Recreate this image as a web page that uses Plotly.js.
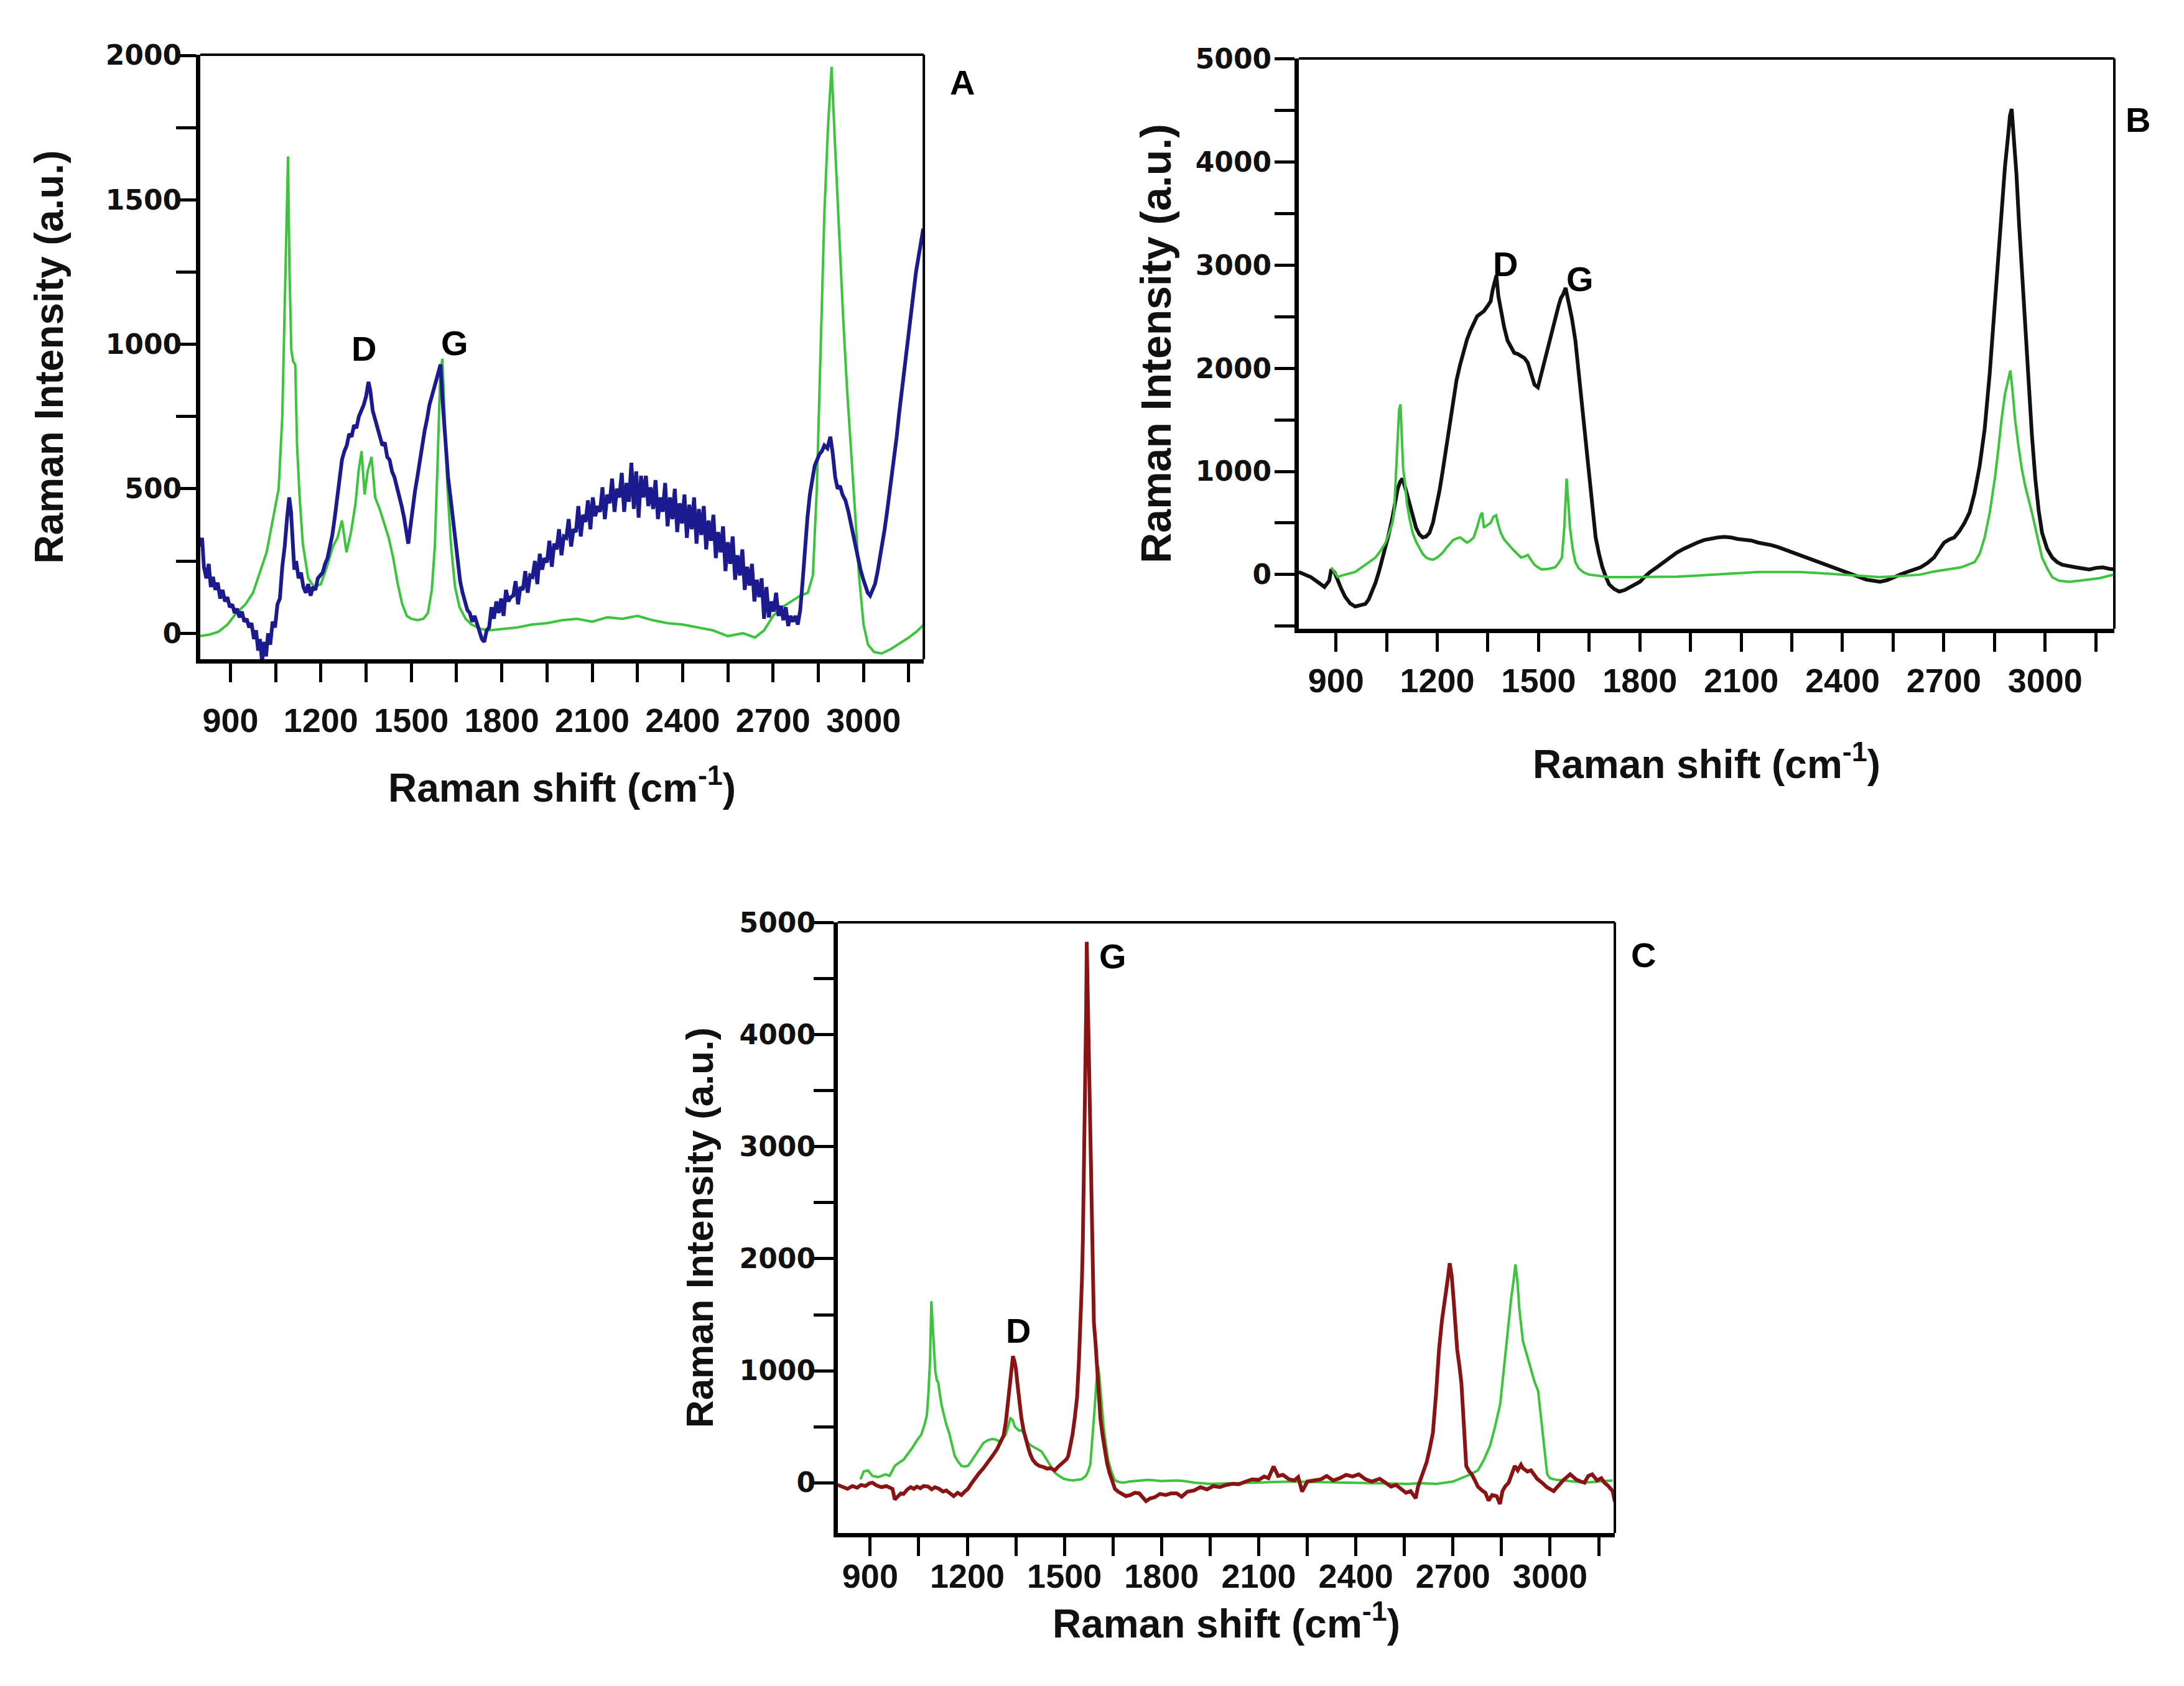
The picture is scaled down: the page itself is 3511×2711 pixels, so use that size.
<!DOCTYPE html>
<html>
<head>
<meta charset="utf-8">
<script src="https://cdn.plot.ly/plotly-3.0.1.min.js"></script>
<style>html,body{margin:0;padding:0;background:#fff;}#chart{width:3511px;height:2711px;}</style>
</head>
<body>
<div id="chart"></div>
<script>
// ---------- Panel A ----------
const A_shift_green = [800,830,860,890,920,950,975,1000,1020,1040,
1060,1072,1080,1086,1091,1096,1102,1108,1115,1121,
1129,1140,1158,1178,1200,1220,1240,1255,1270,1285,
1300,1315,1325,1335,1345,1355,1368,1380,1395,1410,
1425,1440,1455,1470,1485,1500,1520,1540,1555,1568,
1578,1588,1596,1603,1610,1620,1632,1645,1660,1680,
1700,1730,1760,1800,1850,1900,1950,2000,2050,2100,
2150,2200,2250,2300,2350,2400,2450,2500,2550,2600,
2640,2670,2700,2730,2760,2790,2815,2832,2845,2858,
2870,2882,2894,2905,2918,2932,2945,2958,2970,2985,
3000,3015,3035,3060,3090,3120,3150,3175,3200];
const A_int_green = [-10,-5,5,30,70,100,140,220,280,390,
500,750,1100,1450,1650,1250,980,940,930,650,
480,310,190,160,170,230,300,330,390,280,
350,450,560,630,480,560,610,470,430,380,
330,260,170,100,60,50,45,50,70,150,
300,620,900,950,760,500,300,160,90,50,
30,15,10,15,20,30,35,45,50,40,
55,50,60,45,35,30,20,10,-10,0,
-15,10,60,90,110,130,140,200,500,1000,
1450,1750,1960,1700,1400,1100,850,650,450,200,
30,-40,-65,-70,-55,-35,-15,5,30];

const A_shift_blue = [800,806,812,820,828,835,842,850,858,866,
874,882,890,898,906,914,922,930,938,946,
954,962,970,978,985,992,998,1005,1012,1018,
1025,1032,1040,1048,1056,1064,1072,1080,1088,1095,
1101,1106,1112,1118,1126,1134,1142,1150,1158,1166,
1174,1182,1190,1198,1206,1214,1222,1230,1238,1246,
1254,1262,1270,1278,1286,1294,1302,1310,1318,1326,
1334,1342,1350,1358,1364,1372,1380,1388,1396,1404,
1412,1420,1428,1436,1444,1452,1460,1468,1476,1484,
1490,1496,1504,1512,1520,1528,1536,1544,1552,1560,
1568,1576,1584,1590,1597,1604,1610,1616,1622,1630,
1638,1646,1654,1662,1670,1678,1686,1694,1702,1710,
1718,1726,1734,1742,1750,1758,1766,1774,1782,1790,
1798,1806,1814,1822,1830,1838,1846,1854,1862,1870,
1878,1886,1894,1902,1910,1918,1926,1934,1942,1950,
1958,1966,1974,1982,1990,1998,2006,2014,2022,2030,
2038,2046,2054,2062,2070,2078,2086,2094,2102,2110,
2118,2126,2134,2142,2150,2158,2166,2174,2182,2190,
2198,2206,2214,2222,2230,2238,2246,2254,2262,2270,
2278,2286,2294,2302,2310,2318,2326,2334,2342,2350,
2358,2366,2374,2382,2390,2398,2406,2414,2422,2430,
2438,2446,2454,2462,2470,2478,2486,2494,2502,2510,
2518,2526,2534,2542,2550,2558,2566,2574,2582,2590,
2598,2606,2614,2622,2630,2638,2646,2654,2662,2670,
2678,2686,2694,2702,2710,2718,2726,2734,2742,2750,
2758,2766,2774,2782,2790,2798,2806,2814,2822,2830,
2838,2846,2854,2862,2870,2880,2890,2898,2906,2914,
2922,2930,2940,2950,2958,2966,2974,2982,2990,2998,
3006,3014,3022,3030,3038,3046,3054,3062,3070,3078,
3086,3094,3102,3110,3118,3126,3134,3142,3150,3158,
3166,3174,3182,3190,3198];
const A_int_blue = [300,330,230,190,240,160,195,150,175,120,
150,110,125,90,100,70,85,55,75,40,
50,20,35,-20,10,-60,-20,-100,-30,-80,
0,-40,40,20,100,120,230,300,400,470,
420,300,220,250,190,210,160,140,170,130,
160,150,190,200,210,240,260,300,340,400,
460,520,600,630,650,690,680,720,710,750,
770,790,820,870,840,770,740,710,690,650,
660,610,600,560,540,510,480,440,400,340,
310,360,440,490,540,600,640,700,740,790,
820,850,880,900,930,800,700,640,540,470,
400,320,250,180,140,110,80,70,40,60,
30,10,-20,-30,10,20,90,50,110,70,
120,60,150,110,125,130,180,100,160,150,
215,140,200,195,250,170,275,220,260,245,
320,230,310,290,360,270,335,330,395,300,
360,350,440,335,410,385,460,360,470,405,
440,420,505,395,480,450,535,420,500,470,
555,420,520,455,590,430,560,400,545,470,
545,440,505,430,530,395,470,420,520,370,
470,395,500,350,450,380,480,330,445,360,
470,310,430,340,440,290,390,320,410,260,
350,280,370,215,315,240,335,185,270,200,
290,150,230,165,240,110,185,125,190,50,
160,55,110,75,140,60,95,45,90,25,
60,40,60,30,80,180,300,400,480,540,
580,600,620,630,650,640,680,620,540,500,
510,480,460,420,380,330,290,250,220,190,
160,140,130,150,170,210,260,300,360,420,
480,540,600,680,760,830,900,980,1050,1120,
1190,1250,1300,1350,1400];

// ---------- Panel B ----------
const B_shift_black = [790,810,826,845,866,880,886,896,906,916,
927,942,957,972,987,997,1007,1017,1027,1037,
1047,1057,1067,1075,1083,1090,1097,1107,1117,1127,
1137,1147,1157,1167,1177,1187,1197,1207,1217,1227,
1237,1247,1257,1268,1278,1288,1298,1308,1318,1328,
1338,1348,1358,1364,1370,1375,1381,1388,1398,1408,
1418,1428,1438,1448,1458,1468,1478,1488,1498,1508,
1519,1529,1539,1549,1559,1566,1573,1580,1589,1599,
1609,1619,1629,1639,1649,1659,1669,1679,1689,1699,
1709,1724,1739,1755,1770,1785,1800,1815,1830,1850,
1870,1890,1910,1930,1950,1970,1990,2010,2030,2050,
2070,2090,2110,2130,2150,2170,2190,2210,2231,2251,
2271,2291,2311,2331,2351,2371,2391,2411,2431,2451,
2471,2491,2511,2531,2551,2571,2591,2611,2631,2651,
2671,2686,2701,2716,2731,2746,2761,2776,2791,2806,
2821,2836,2851,2861,2871,2881,2891,2896,2901,2908,
2915,2923,2931,2941,2951,2961,2971,2981,2991,3006,
3021,3036,3051,3071,3091,3111,3131,3151,3171,3191,
3205];
const B_int_black = [25,0,-25,-70,-120,-60,50,20,-70,-140,
-215,-280,-310,-300,-285,-240,-165,-80,25,140,
265,400,550,700,835,900,930,820,690,560,
455,390,360,370,405,500,645,820,1025,1240,
1455,1670,1885,2040,2175,2280,2365,2440,2505,2530,
2555,2600,2650,2760,2860,2900,2700,2555,2400,2270,
2200,2150,2140,2125,2100,2055,1950,1840,1815,1950,
2080,2230,2365,2490,2605,2680,2720,2780,2650,2480,
2270,1950,1600,1250,930,620,360,200,70,-20,
-95,-140,-165,-150,-120,-100,-70,-20,25,70,
120,170,215,250,285,310,335,350,360,365,
360,345,335,330,310,300,285,265,240,215,
190,170,145,120,95,70,50,25,0,-25,
-50,-60,-70,-55,-25,0,25,45,70,110,
165,240,310,340,360,420,500,600,790,1050,
1410,1950,2605,3100,3560,3950,4275,4450,4515,4200,
3890,3400,2940,2400,1885,1350,930,620,405,250,
165,120,95,80,70,60,50,65,70,55,
50];

const B_shift_green = [886,896,906,916,927,942,957,972,987,1002,
1017,1032,1047,1057,1067,1072,1077,1082,1087,1091,
1095,1099,1104,1110,1118,1127,1137,1147,1157,1167,
1177,1187,1197,1207,1217,1227,1237,1247,1257,1268,
1278,1288,1298,1308,1318,1328,1333,1338,1348,1358,
1366,1374,1381,1388,1398,1408,1418,1428,1438,1448,
1458,1468,1478,1488,1498,1509,1529,1549,1559,1569,
1576,1583,1588,1593,1601,1609,1619,1634,1649,1679,
1709,1750,1790,1850,1910,1970,2030,2090,2150,2210,
2271,2331,2391,2451,2511,2571,2631,2671,2711,2731,
2751,2771,2791,2806,2821,2836,2851,2861,2871,2881,
2891,2897,2903,2911,2921,2931,2941,2951,2961,2971,
2981,2991,3006,3021,3041,3071,3101,3131,3161,3191,
3205];
const B_int_green = [70,20,-25,-10,0,15,25,60,95,130,
165,230,310,400,500,600,930,1300,1600,1650,
1300,1025,900,690,540,405,320,265,200,165,
150,145,160,185,215,260,300,335,350,360,
335,310,330,360,460,575,600,455,480,500,
560,575,480,405,340,300,265,230,200,165,
175,190,140,95,70,50,55,70,110,165,
450,930,700,455,250,120,60,20,0,-15,
-25,-25,-25,-25,-20,-10,0,10,25,25,
25,15,0,-10,-25,-15,0,30,50,65,
70,95,120,200,360,600,930,1200,1505,1750,
1885,1980,1800,1505,1250,1025,860,740,600,455,
300,165,60,-25,-60,-70,-60,-50,-35,-10,
0];

// ---------- Panel C ----------
const C_shift_red = [800,815,830,845,860,872,885,898,907,920,
935,950,962,969,976,985,995,1003,1015,1025,
1035,1044,1055,1065,1079,1090,1100,1113,1125,1135,
1147,1158,1170,1182,1192,1202,1212,1223,1235,1250,
1264,1278,1292,1305,1312,1319,1325,1330,1336,1341,
1346,1350,1355,1360,1367,1374,1381,1388,1395,1402,
1412,1422,1435,1447,1457,1470,1480,1491,1500,1507,
1512,1518,1525,1532,1539,1545,1550,1554,1557,1560,
1564,1567,1569,1571,1574,1577,1581,1584,1588,1591,
1596,1601,1606,1611,1618,1625,1632,1639,1647,1656,
1666,1677,1690,1704,1717,1731,1742,1752,1765,1779,
1795,1813,1830,1847,1862,1880,1900,1920,1940,1960,
1980,2000,2020,2038,2060,2080,2100,2117,2130,2146,
2160,2175,2194,2210,2222,2234,2250,2270,2292,2310,
2330,2350,2370,2390,2409,2430,2449,2474,2490,2509,
2524,2540,2555,2569,2585,2592,2600,2610,2619,2628,
2638,2648,2657,2666,2676,2683,2690,2696,2702,2708,
2713,2720,2726,2734,2741,2750,2758,2768,2777,2790,
2800,2810,2821,2835,2845,2853,2862,2872,2882,2891,
2900,2910,2916,2930,2941,2950,2960,2975,2990,3011,
3025,3040,3062,3080,3095,3106,3118,3130,3145,3158,
3168,3180,3193,3200];
const C_int_red = [-20,-40,-55,-30,-45,-20,-30,-5,0,-25,
-40,-30,-50,-55,-150,-120,-95,-100,-60,-40,
-55,-35,-50,-30,-35,-60,-40,-55,-80,-70,
-95,-120,-90,-110,-80,-55,-10,35,80,130,
180,240,300,370,420,540,700,875,1000,1130,
1080,1020,880,725,580,465,380,315,250,205,
170,150,140,125,130,110,140,165,190,210,
240,320,430,580,760,1100,1430,1800,2175,2700,
3290,4200,4830,4500,4000,3585,2800,2175,1700,1430,
1250,1060,820,575,420,280,170,90,20,-55,
-80,-95,-120,-110,-90,-95,-130,-165,-140,-130,
-100,-110,-95,-95,-125,-80,-70,-40,-60,-30,
-40,-20,-10,-15,10,30,25,55,40,145,
60,70,30,20,50,-80,10,20,30,60,
20,40,70,55,75,30,10,35,0,-35,
-20,-60,-90,-75,-140,-35,35,110,185,300,
445,800,1190,1450,1635,1800,1960,1850,1635,1400,
1190,1040,890,500,150,100,75,20,-35,-70,
-90,-160,-110,-120,-190,-75,-30,0,90,150,
110,160,130,100,110,70,35,0,-40,-75,
-30,20,75,30,10,0,60,75,20,40,
0,-30,-75,-170];

const C_shift_green = [870,880,893,907,925,948,960,976,990,1003,
1017,1031,1045,1058,1068,1075,1080,1085,1089,1093,
1097,1101,1106,1110,1113,1120,1127,1135,1144,1152,
1161,1171,1182,1192,1202,1212,1223,1236,1250,1264,
1278,1288,1298,1308,1319,1326,1333,1340,1347,1354,
1360,1367,1374,1381,1388,1398,1408,1418,1429,1440,
1450,1460,1470,1484,1498,1512,1525,1540,1553,1566,
1573,1580,1587,1594,1599,1604,1608,1611,1616,1621,
1628,1635,1645,1656,1670,1683,1700,1731,1760,1800,
1847,1870,1900,1950,2000,2100,2200,2300,2400,2500,
2560,2600,2650,2700,2726,2750,2777,2795,2815,2830,
2846,2860,2872,2880,2887,2893,2899,2905,2916,2930,
2941,2952,2963,2971,2979,2985,2991,3000,3020,3042,
3070,3106,3150,3193];
const C_int_green = [30,100,110,60,50,75,60,150,180,205,
260,315,380,430,520,600,800,1100,1620,1400,
1200,1000,910,900,835,700,615,520,445,340,
240,190,150,145,150,190,240,300,355,380,
390,385,370,390,430,500,575,560,500,480,
465,470,445,400,355,330,315,300,280,230,
185,130,90,60,35,25,20,25,30,60,
100,165,400,690,900,1040,950,835,650,500,
340,205,100,20,5,0,10,20,25,15,
20,15,0,-10,-5,5,10,5,0,-5,
-10,-5,-10,10,40,70,110,200,335,500,
705,1100,1450,1650,1800,1950,1800,1550,1265,1120,
1005,900,820,600,410,250,75,40,25,20,
10,0,10,20];

// ---------- Axis / label text ----------
const X_TICKS = [900,1200,1500,1800,2100,2400,2700,3000];
const X_TITLE = 'Raman shift (cm<sup>-1</sup>)';
const Y_TITLE = 'Raman Intensity (a.u.)';
const PANEL_LABELS = ['A','B','C'];
const PEAK_LABELS = ['D','G'];

// ---------- Styles ----------
const GREEN = '#3cc43c', BLUE = '#1b1b8f', BLACK = '#111111', RED = '#8a1414';
const FONT_T = 'Liberation Sans, Arial, sans-serif';
const FONT_Y = 'DejaVu Sans, Verdana, sans-serif';

function line(x, y, color, w, xa, ya) {
  return {x: x, y: y, type: 'scatter', mode: 'lines', line: {color: color, width: w},
          xaxis: xa, yaxis: ya, hoverinfo: 'skip', showlegend: false};
}

const data = [
  line(A_shift_green, A_int_green, GREEN, 4, 'x', 'y'),
  line(A_shift_blue, A_int_blue, BLUE, 6, 'x', 'y'),
  line(B_shift_black, B_int_black, BLACK, 6, 'x2', 'y2'),
  line(B_shift_green, B_int_green, GREEN, 4, 'x2', 'y2'),
  line(C_shift_green, C_int_green, GREEN, 4, 'x3', 'y3'),
  line(C_shift_red, C_int_red, RED, 6, 'x3', 'y3')
];

function xax(domain, range, anchor, lblStand, titleStand) {
  return {
    domain: domain, range: range, anchor: anchor,
    tickmode: 'array', tickvals: X_TICKS, ticktext: X_TICKS.map(String),
    ticks: 'outside', ticklen: 30, tickwidth: 5, tickcolor: '#000',
    minor: {tickmode: 'linear', tick0: 900, dtick: 150, ticks: 'outside', ticklen: 30, tickwidth: 5, tickcolor: '#000', showgrid: false},
    showline: true, linewidth: 7, linecolor: '#000',
    showgrid: false, zeroline: false,
    tickfont: {family: FONT_T, size: 54, color: '#111', weight: 'bold'},
    ticklabelstandoff: lblStand,
    title: {text: X_TITLE, font: {family: FONT_T, size: 64, color: '#111', weight: 'bold'}, standoff: titleStand}
  };
}
function yax(domain, range, anchor, dtick, minorDt, lblStand, titleSize, titleStand) {
  return {
    domain: domain, range: range, anchor: anchor,
    tickmode: 'linear', tick0: 0, dtick: dtick,
    ticks: 'outside', ticklen: 32, tickwidth: 5, tickcolor: '#000',
    minor: {tickmode: 'linear', tick0: 0, dtick: minorDt, ticks: 'outside', ticklen: 32, tickwidth: 5, tickcolor: '#000', showgrid: false},
    showline: true, linewidth: 7, linecolor: '#000',
    showgrid: false, zeroline: false,
    tickfont: {family: FONT_Y, size: 44, color: '#111', weight: 'bold'},
    ticklabelstandoff: lblStand,
    title: {text: Y_TITLE, font: {family: FONT_T, size: titleSize, color: '#111', weight: 'bold'}, standoff: titleStand}
  };
}

function frame(xr, yr) {
  return [
    {type: 'line', xref: xr + ' domain', yref: yr + ' domain', x0: 0, x1: 1, y0: 1, y1: 1, line: {color: '#000', width: 4}},
    {type: 'line', xref: xr + ' domain', yref: yr + ' domain', x0: 1, x1: 1, y0: 0, y1: 1, line: {color: '#000', width: 4}}
  ];
}

function lab(text, x, y, xr, yr) {
  return {text: text, x: x, y: y, xref: xr, yref: yr, showarrow: false,
          xanchor: 'center', yanchor: 'middle',
          font: {family: FONT_T, size: 56, color: '#000', weight: 'bold'}};
}

const layout = {
  width: 3511, height: 2711,
  margin: {l: 0, r: 0, t: 0, b: 0},
  paper_bgcolor: '#fff', plot_bgcolor: '#fff',
  showlegend: false,
  xaxis: xax([0.0917, 0.4230], [800, 3200], 'y', 15, 60),
  yaxis: yax([0.6090, 0.9675], [-90, 2002], 'x', 500, 250, -18, 64, 50),
  xaxis2: xax([0.5947, 0.9681], [790, 3205], 'y2', 0, 86),
  yaxis2: yax([0.6271, 0.9653], [-525, 5005], 'x2', 1000, 500, -4, 68, 19),
  xaxis3: xax([0.3836, 0.7394], [800, 3200], 'y3', -14, 28),
  yaxis3: yax([0.0907, 0.4530], [-450, 5005], 'x3', 1000, 500, -12, 62, 24),
  shapes: [].concat(frame('x', 'y'), frame('x2', 'y2'), frame('x3', 'y3')),
  annotations: [
    lab(PANEL_LABELS[0], 0.4405, 0.951, 'paper', 'paper'),
    lab(PANEL_LABELS[1], 0.979, 0.929, 'paper', 'paper'),
    lab(PANEL_LABELS[2], 0.7525, 0.4336, 'paper', 'paper'),
    lab(PEAK_LABELS[0], 1342, 985, 'x', 'y'),
    lab(PEAK_LABELS[1], 1645, 1005, 'x', 'y'),
    lab(PEAK_LABELS[0], 1402, 3010, 'x2', 'y2'),
    lab(PEAK_LABELS[1], 1623, 2866, 'x2', 'y2'),
    lab(PEAK_LABELS[0], 1357, 1357, 'x3', 'y3'),
    lab(PEAK_LABELS[1], 1649, 4703, 'x3', 'y3')
  ]
};

Plotly.newPlot('chart', data, layout, {displayModeBar: false, staticPlot: true});
</script>
</body>
</html>
